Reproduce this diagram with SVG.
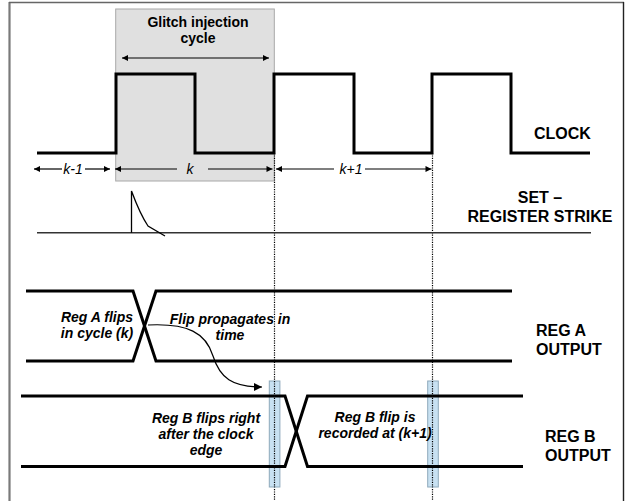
<svg xmlns="http://www.w3.org/2000/svg" width="629" height="501" viewBox="0 0 629 501">
<defs>
<style>
.sig{fill:none;stroke:#000;stroke-width:3;stroke-linejoin:miter}
.thin{fill:none;stroke:#000;stroke-width:1.2}
.dot{fill:none;stroke:#000;stroke-width:1.2;stroke-dasharray:1.2,1.2}
.lbl{font-family:"Liberation Sans",Arial,sans-serif;font-weight:bold;font-size:16px;fill:#000}
.note{font-family:"Liberation Sans",Arial,sans-serif;font-weight:bold;font-style:italic;font-size:14px;fill:#000;text-anchor:middle}
.cyc{font-family:"Liberation Sans",Arial,sans-serif;font-style:italic;font-size:14px;fill:#000;text-anchor:middle}
.title{font-family:"Liberation Sans",Arial,sans-serif;font-weight:bold;font-size:14px;fill:#000;text-anchor:middle}
.mark{fill:#c8e1f2;stroke:#8ea9bb;stroke-width:1}
</style>
<marker id="ah" viewBox="0 0 10 10" refX="10" refY="5" markerWidth="8" markerHeight="6" markerUnits="userSpaceOnUse" orient="auto-start-reverse">
<path d="M0,0 L10,5 L0,10 z" fill="#000"/>
</marker>
<marker id="ahb" viewBox="0 0 10 10" refX="10" refY="5" markerWidth="12" markerHeight="8" markerUnits="userSpaceOnUse" orient="auto">
<path d="M0,0 L10,5 L0,10 z" fill="#000"/>
</marker>
</defs>

<g id="frame">
<line x1="9.5" y1="2" x2="9.5" y2="501" stroke="#7a7a7a" stroke-width="2.2"/>
<line x1="9" y1="2.5" x2="624" y2="2.5" stroke="#666" stroke-width="1.5"/>
<line x1="623.5" y1="2" x2="623.5" y2="501" stroke="#222" stroke-width="1.4"/>
</g>

<g id="glitch-cycle">
<rect x="115.7" y="9" width="158.6" height="172" fill="#e0e0e0" stroke="#a8a8a8" stroke-width="1"/>
<text class="title" x="198" y="27">Glitch injection</text>
<text class="title" x="198" y="43">cycle</text>
</g>

<g id="connectors">
<line class="thin" x1="122" y1="58" x2="269" y2="58" marker-start="url(#ah)" marker-end="url(#ah)"/>
<line class="dot" x1="274.5" y1="153" x2="274.5" y2="501"/>
<line class="dot" x1="432.5" y1="153" x2="432.5" y2="501"/>
<line class="thin" x1="34" y1="169" x2="62" y2="169" marker-start="url(#ah)"/>
<line class="thin" x1="85" y1="169" x2="110" y2="169" marker-end="url(#ah)"/>
<line class="thin" x1="115" y1="169" x2="177" y2="169" marker-start="url(#ah)"/>
<line class="thin" x1="208" y1="169" x2="272.5" y2="169" marker-end="url(#ah)"/>
<line class="thin" x1="276" y1="169" x2="334" y2="169" marker-start="url(#ah)"/>
<line class="thin" x1="365" y1="169" x2="431.5" y2="169" marker-end="url(#ah)"/>
<path class="thin" d="M148,325 C188,323 206,333 213,356 C220,378 232,387 262,387" marker-end="url(#ahb)"/>
</g>

<g id="clock">
<polyline class="sig" points="37,153 116,153 116,74 195,74 195,153 274,153 274,74 354,74 354,153 432,153 432,74 511,74 511,153 590,153"/>
<text class="lbl" x="534" y="139">CLOCK</text>
<text class="cyc" x="73" y="174">k-1</text>
<text class="cyc" x="190" y="174">k</text>
<text class="cyc" x="351" y="174">k+1</text>
</g>

<g id="set-strike">
<line x1="37" y1="232.7" x2="591" y2="232.7" stroke="#333" stroke-width="1.6"/>
<path d="M131.5,232.7 L131.5,191 Q140,214 148,226 L165,236" fill="none" stroke="#000" stroke-width="1.3"/>
<text class="lbl" x="540" y="203" text-anchor="middle">SET –</text>
<text class="lbl" x="540" y="222" text-anchor="middle">REGISTER STRIKE</text>
</g>

<g id="reg-a">
<polyline class="sig" points="26,291 133,291 156,361 512,361"/>
<polyline class="sig" points="26,361 133,361 156,291 512,291"/>
<text class="note" x="97" y="322">Reg A flips</text>
<text class="note" x="97" y="338">in cycle (k)</text>
<text class="note" x="230" y="324">Flip propagates in</text>
<text class="note" x="230" y="340">time</text>
<text class="lbl" x="536" y="336">REG A</text>
<text class="lbl" x="536" y="354.5">OUTPUT</text>
</g>

<g id="markers">
<rect class="mark" x="269.3" y="381" width="10.6" height="106"/>
<rect class="mark" x="427.7" y="381" width="10.6" height="106"/>
<line class="dot" x1="274.5" y1="381" x2="274.5" y2="487"/>
<line class="dot" x1="432.5" y1="381" x2="432.5" y2="487"/>
</g>

<g id="reg-b">
<polyline class="sig" points="21,396 285,396 307.5,466.5 523,466.5"/>
<polyline class="sig" points="21,466.5 285,466.5 307.5,396 523,396"/>
<text class="note" x="206" y="423">Reg B flips right</text>
<text class="note" x="206" y="439">after the clock</text>
<text class="note" x="206" y="455">edge</text>
<text class="note" x="375" y="422">Reg B flip is</text>
<text class="note" x="375" y="438">recorded at (k+1)</text>
<text class="lbl" x="545" y="442">REG B</text>
<text class="lbl" x="545" y="460.5">OUTPUT</text>
</g>
</svg>
